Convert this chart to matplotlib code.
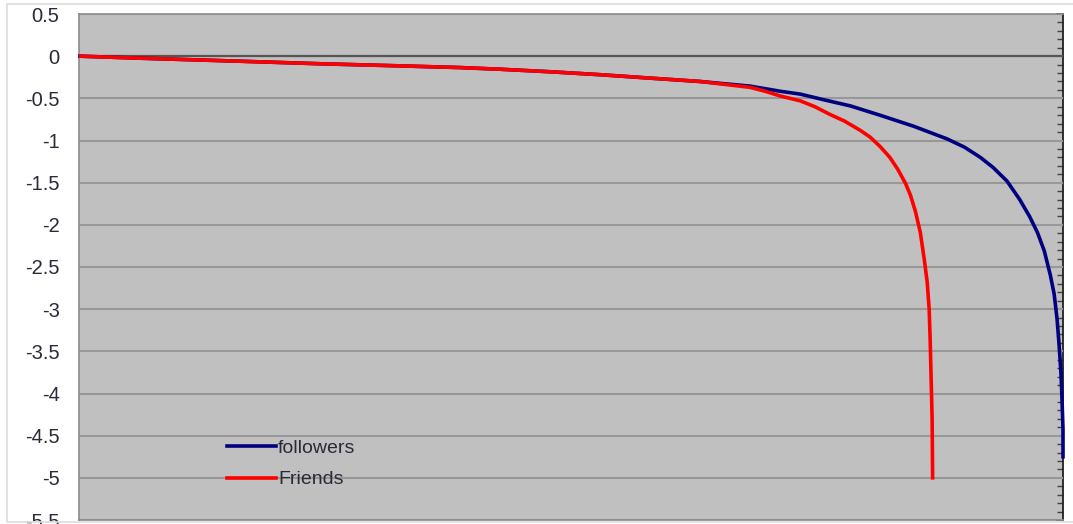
#%% Importing the libraries
import numpy as np
import matplotlib.pyplot as plt
from matplotlib.patches import Rectangle
from matplotlib.ticker import MultipleLocator

plt.rcParams['font.family'] = ['Liberation Sans', 'DejaVu Sans']

#%% Data: rank (percent of users) vs log value
# common head of both curves
rank_head = [0.1, 6.2, 16.4, 24.5, 32.6, 38.7, 42.8, 47.9, 53.0, 58.0, 63.1]
log_head = [0.0, -0.024, -0.06, -0.09, -0.115, -0.135, -0.155, -0.185, -0.22, -0.26, -0.30]

rank_friends = rank_head + [68.2, 69.7, 71.2, 73.3, 74.8, 76.3, 77.8, 79.4, 80.4, 81.4, 82.4,
                            83.2, 84.0, 84.5, 85.0, 85.5, 85.9, 86.2, 86.4, 86.5, 86.6, 86.7, 86.75]
log_friends = log_head + [-0.37, -0.415, -0.47, -0.53, -0.60, -0.69, -0.77, -0.88, -0.96, -1.07, -1.20,
                          -1.34, -1.51, -1.65, -1.84, -2.09, -2.41, -2.68, -3.0, -3.36, -3.83, -4.30, -5.0]

rank_followers = rank_head + [68.2, 71.2, 73.3, 75.8, 78.4, 81.4, 84.8, 88.2, 90.0, 91.6, 92.9, 94.3,
                              95.6, 96.6, 97.4, 98.1, 98.7, 99.1, 99.4, 99.6, 99.8, 99.9, 100.0, 100.0]
log_followers = log_head + [-0.355, -0.415, -0.45, -0.52, -0.59, -0.70, -0.83, -0.98, -1.08, -1.20, -1.32, -1.48,
                            -1.70, -1.90, -2.09, -2.31, -2.59, -2.82, -3.12, -3.42, -3.77, -4.07, -4.42, -4.75]

y_ticks = np.arange(0.5, -5.51, -0.5)

#%% Figure
fig = plt.figure(figsize=(10.73, 5.24), dpi=100)
fig.patch.set_facecolor('white')
# chart area border
fig.patches.append(Rectangle((7 / 1073, 2 / 524), 1.1, 518 / 524, transform=fig.transFigure,
                             fill=False, edgecolor='#dcdcdc', linewidth=1.2))

ax = fig.add_axes([79 / 1073, 4 / 524, 984 / 1073, 506 / 524])
ax.set_facecolor('#c0c0c0')

ax.plot(rank_followers, log_followers, color='#000080', linewidth=2.6, label='followers',
        zorder=3, solid_joinstyle='round', clip_on=False)
ax.plot(rank_friends, log_friends, color='#ff0000', linewidth=2.6, label='Friends',
        zorder=4, solid_joinstyle='round')

ax.set_xlim(0, 100)
ax.set_ylim(-5.5, 0.5)
ax.set_yticks(y_ticks)
ax.set_yticklabels(['{:g}'.format(v) for v in y_ticks])
ax.set_xticks([])
ax.grid(axis='y', color='#989898', linewidth=1.5)
ax.axhline(0, color='#555555', linewidth=1.6, zorder=2)
ax.tick_params(axis='y', length=0, pad=14, labelsize=14.5, labelcolor='#2a2a38')

for side in ['left', 'top', 'bottom']:
    ax.spines[side].set_color('#8c8c8c')
    ax.spines[side].set_linewidth(1.2)
ax.spines['right'].set_visible(False)

# vertical axis on the right with small ticks
ax2 = ax.secondary_yaxis('right')
ax2.spines['right'].set_color('#202020')
ax2.spines['right'].set_linewidth(1.3)
ax2.yaxis.set_major_locator(MultipleLocator(0.5))
ax2.yaxis.set_minor_locator(MultipleLocator(0.1))
ax2.tick_params(which='major', direction='in', length=5, width=1.2, color='#303030', labelright=False)
ax2.tick_params(which='minor', direction='in', length=4, width=1.0, color='#404040')

leg = ax.legend(loc='lower left', bbox_to_anchor=(0.133, 0.028), frameon=False,
                handlelength=2.5, handletextpad=0.1, labelspacing=0.7, fontsize=14,
                labelcolor='#2a2a38')

plt.savefig('out.png', dpi=100)
